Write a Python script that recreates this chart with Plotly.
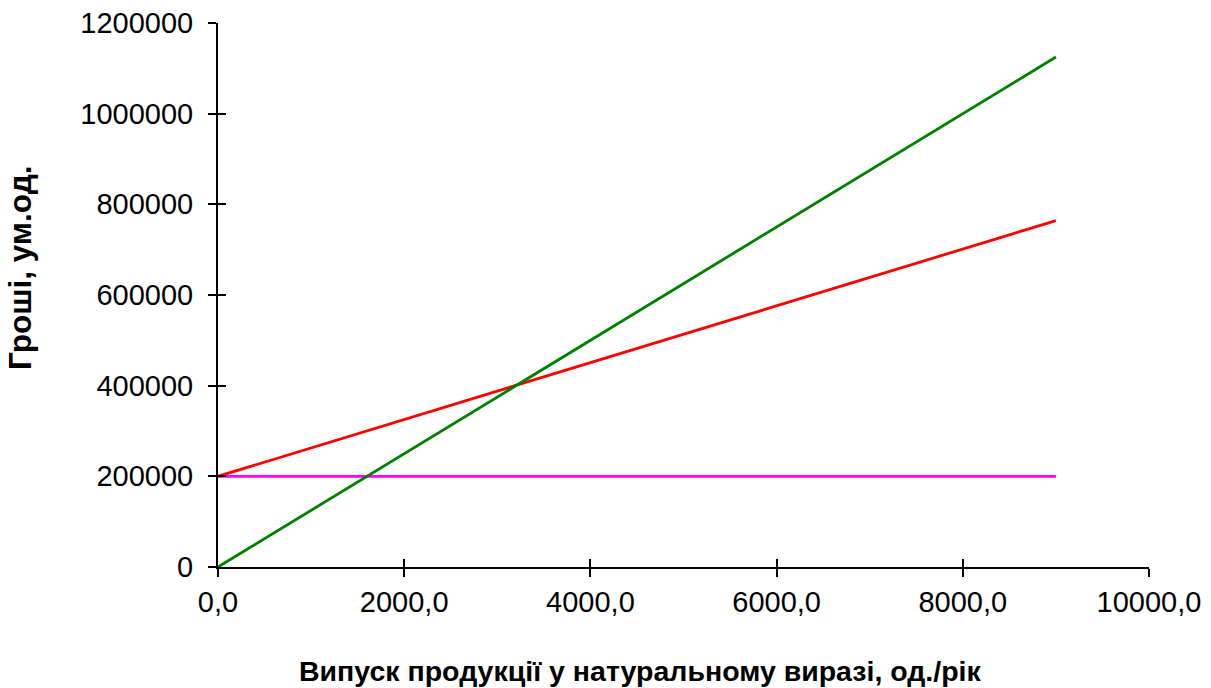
import plotly.graph_objects as go

output = [0, 9000]
fixed_costs = [200000, 200000]
total_costs = [200000, 764000]
revenue = [0, 1125000]

x_ticks = [0, 2000, 4000, 6000, 8000, 10000]
x_tick_labels = ["0,0", "2000,0", "4000,0", "6000,0", "8000,0", "10000,0"]
y_ticks = [0, 200000, 400000, 600000, 800000, 1000000, 1200000]
y_tick_labels = ["0", "200000", "400000", "600000", "800000", "1000000", "1200000"]

x_title = "Випуск продукції у натуральному виразі, од./рік"
y_title = "Гроші, ум.од."

fig = go.Figure()
fig.add_trace(go.Scatter(x=output, y=fixed_costs, mode="lines",
                         line=dict(color="#FF00FF", width=2.8), showlegend=False))
fig.add_trace(go.Scatter(x=output, y=total_costs, mode="lines",
                         line=dict(color="#FF0000", width=2.8), showlegend=False))
fig.add_trace(go.Scatter(x=output, y=revenue, mode="lines",
                         line=dict(color="#008000", width=2.8), showlegend=False))
# invisible trace for secondary axes (inside tick marks)
fig.add_trace(go.Scatter(x=output, y=fixed_costs, mode="lines", xaxis="x2", yaxis="y2",
                         line=dict(color="rgba(0,0,0,0)"), showlegend=False, hoverinfo="skip"))

family = "Liberation Sans, Arial, sans-serif"
tick_font = dict(family=family, size=29, color="#000000")

axis_common = dict(showgrid=False, zeroline=False, showline=True, linecolor="#000000",
                   linewidth=2, tickcolor="#000000", tickwidth=2, ticklen=8,
                   automargin=False, ticklabeloverflow="allow")

W, H = 1211, 688
PL, PT = 218, 23          # plot left/top in page px
PW, PH = 931, 544         # plot width/height

fig.update_layout(
    width=W, height=H,
    margin=dict(l=PL, r=W - (PL + PW), t=PT, b=H - (PT + PH)),
    paper_bgcolor="white", plot_bgcolor="white",
    font=tick_font,
    xaxis=dict(range=[0, 10000], tickvals=x_ticks, ticktext=x_tick_labels,
               ticks="outside", tickfont=tick_font, ticklabelstandoff=0, **axis_common),
    yaxis=dict(range=[0, 1200000], tickvals=y_ticks, ticktext=y_tick_labels,
               ticks="outside", tickfont=tick_font, ticklabelstandoff=9, **axis_common),
    xaxis2=dict(range=[0, 10000], tickvals=x_ticks, overlaying="x", anchor="y",
                ticks="inside", showticklabels=False, **axis_common),
    yaxis2=dict(range=[0, 1200000], tickvals=y_ticks, overlaying="y", anchor="x",
                ticks="inside", showticklabels=False, **axis_common),
    annotations=[
        dict(text="<b>" + x_title + "</b>", xref="paper", yref="paper",
             x=(640 - PL) / PW, y=-(671 - (PT + PH)) / PH, xanchor="center", yanchor="middle",
             showarrow=False, font=dict(family=family, size=28.5, color="#000000")),
        dict(text="<b>" + y_title + "</b>", xref="paper", yref="paper",
             x=-(PL - 20) / PW, y=((PT + PH) - 268) / PH, xanchor="center", yanchor="middle",
             textangle=-90, showarrow=False, font=dict(family=family, size=31.5, color="#000000")),
    ],
)

fig.write_html("out.html", config={"displayModeBar": False},
               post_script="document.body.style.margin='0';document.body.style.overflow='hidden';")
